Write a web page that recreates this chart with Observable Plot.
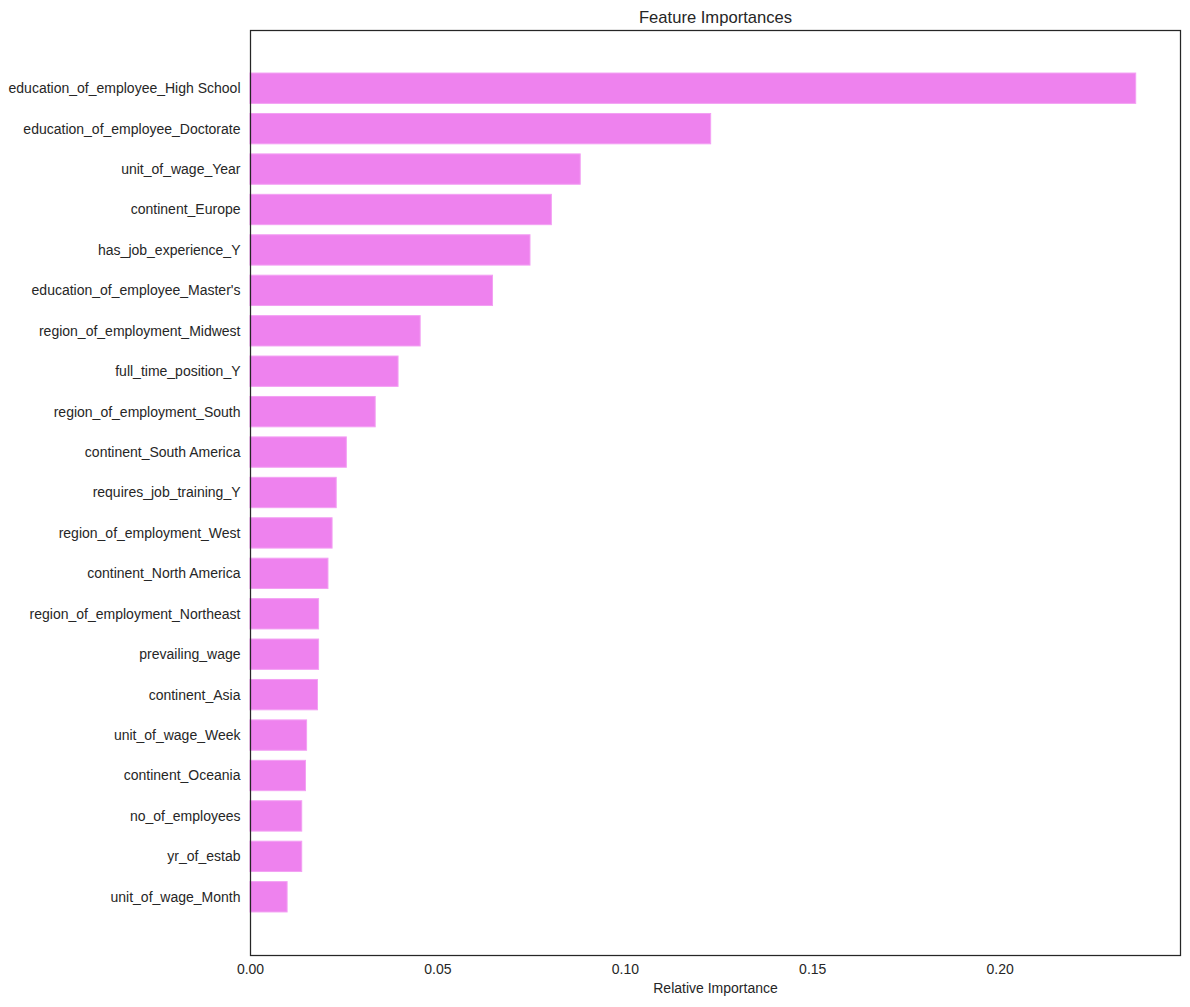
<!DOCTYPE html>
<html>
<head>
<meta charset="utf-8">
<script src="https://cdn.jsdelivr.net/npm/d3@7"></script>
<script src="https://cdn.jsdelivr.net/npm/@observablehq/plot@0.6"></script>
<style>
  html, body { margin: 0; padding: 0; background: #fff; }
  #chart { width: 1190px; height: 1007px; }
</style>
</head>
<body>
<div id="chart"></div>
<script>
const features = [
  "education_of_employee_High School",
  "education_of_employee_Doctorate",
  "unit_of_wage_Year",
  "continent_Europe",
  "has_job_experience_Y",
  "education_of_employee_Master's",
  "region_of_employment_Midwest",
  "full_time_position_Y",
  "region_of_employment_South",
  "continent_South America",
  "requires_job_training_Y",
  "region_of_employment_West",
  "continent_North America",
  "region_of_employment_Northeast",
  "prevailing_wage",
  "continent_Asia",
  "unit_of_wage_Week",
  "continent_Oceania",
  "no_of_employees",
  "yr_of_estab",
  "unit_of_wage_Month"
];
const importances = [
  0.2363, 0.1229, 0.0881, 0.0804, 0.0747, 0.0647, 0.0454, 0.0395, 0.0334,
  0.0257, 0.0230, 0.0219, 0.0208, 0.0183, 0.0183, 0.0180, 0.0151, 0.0148,
  0.0138, 0.0138, 0.0099
];
const xTicks = [0, 0.05, 0.10, 0.15, 0.20];
const title = "Feature Importances";
const xLabel = "Relative Importance";

const data = features.map((f, i) => ({feature: f, value: importances[i]}));
const xMax = d3.max(importances) * 1.05;
const ink = "#262626";

const chart = Plot.plot({
  width: 1190,
  height: 1007,
  marginLeft: 250,
  marginRight: 10,
  marginTop: 30,
  marginBottom: 52,
  style: {fontFamily: "'Liberation Sans', Arial, sans-serif", fontSize: "14px", color: ink, background: "#fff"},
  x: {domain: [0, xMax], ticks: xTicks, tickFormat: d3.format(".2f"), label: null},
  y: {domain: features, paddingInner: 0.2, paddingOuter: 1.04, round: false, label: null},
  marks: [
    Plot.barX(data, {y: "feature", x: "value", fill: "#EE82EE", stroke: "#F3A0F3", strokeWidth: 1, insetTop: 1, insetBottom: 1}),
    Plot.frame({stroke: ink, strokeWidth: 1.25}),
    Plot.axisX({ticks: xTicks, tickFormat: d3.format(".2f"), tickSize: 0, tickPadding: 9, fontSize: 14, fill: ink, label: null}),
    Plot.axisY({tickSize: 0, tickPadding: 10, fontSize: 14, fill: ink, label: null}),
    Plot.text([title], {frameAnchor: "top", dy: -19, fontSize: 16.6, fill: ink}),
    Plot.text([xLabel], {frameAnchor: "bottom", dy: 37, fontSize: 14, fill: ink})
  ]
});
document.getElementById("chart").appendChild(chart);
</script>
</body>
</html>
